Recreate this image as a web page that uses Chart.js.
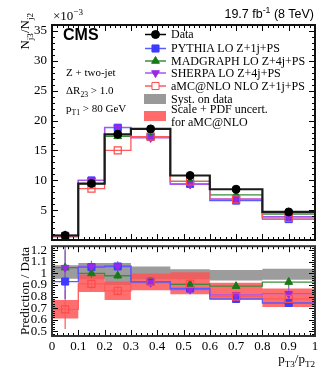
<!DOCTYPE html>
<html><head><meta charset="utf-8">
<script src="https://cdn.jsdelivr.net/npm/chart.js@4"></script>
<style>
body{margin:0;width:332px;height:375px;position:relative;background:#fff;overflow:hidden;font-family:"Liberation Serif",serif;}
canvas{position:absolute;left:0;top:0;}
.t{position:absolute;white-space:nowrap;color:#000;font-size:12px;line-height:14px;}
sub,sup{font-size:70%;line-height:0;}
.rot{position:absolute;transform-origin:0 0;transform:rotate(-90deg);white-space:nowrap;font-size:13px;line-height:16px;height:16px;}
</style></head><body>
<div style="position:absolute;left:0;top:0;width:332px;height:250px"><canvas id="c1" width="332" height="250"></canvas></div>
<div style="position:absolute;left:0;top:240px;width:332px;height:135px"><canvas id="c2" width="332" height="135"></canvas></div>
<div id="txt"></div>
<script>
// ---- data ----
const binEdges=[0,0.1,0.2,0.3,0.45,0.6,0.8,1.0];
const binCenters=[0.05,0.15,0.25,0.375,0.525,0.7,0.9];
const dataVals=[0.75,9.45,17.7,18.6,10.8,8.5,4.7];
const pythiaVals=[0.70,9.97,18.8,17.3,9.4,6.6,3.5];
const madgraphVals=[0.79,9.45,17.35,17.3,9.8,7.55,4.35];
const sherpaVals=[0.79,10.0,18.85,17.1,9.3,6.9,3.9];
const amcVals=[0.52,8.6,15.0,17.3,9.8,6.8,3.7];
const pythiaRatio=[0.93,1.055,1.06,0.93,0.87,0.78,0.745];
const madgraphRatio=[1.05,1.0,0.98,0.93,0.905,0.89,0.925];
const sherpaRatio=[1.05,1.06,1.065,0.92,0.86,0.815,0.825];
const amcRatio=[0.69,0.91,0.85,0.93,0.91,0.80,0.78];
const pythiaErr=[0.15,0.04,0.03,0.02,0.02,0.02,0.02];
const madgraphErr=[0.15,0.04,0.03,0.02,0.02,0.02,0.04];
const sherpaErr=[0.18,0.05,0.04,0.04,0.03,0.03,0.06];
const amcErr=[0.17,0.05,0.04,0.03,0.04,0.03,0.07];
const systLo=[0.955,0.95,0.90,0.95,0.95,0.94,0.945];
const systHi=[1.07,1.09,1.09,1.06,1.035,1.03,1.04];
const amcBandLo=[0.61,0.84,0.77,0.855,0.82,0.77,0.71];
const amcBandHi=[0.77,0.99,0.93,1.0,1.01,0.92,0.87];
const topYTicks=[5,10,15,20,25,30,35];
const ratioYTicks=[0.5,0.6,0.7,0.8,0.9,1.0,1.1,1.2];
const ratioYLabels=['0.5','0.6','0.7','0.8','0.9','1','1.1','1.2'];
const xTicks=[0,0.1,0.2,0.3,0.4,0.5,0.6,0.7,0.8,0.9,1.0];
const xTickLabels=['0','0.1','0.2','0.3','0.4','0.5','0.6','0.7','0.8','0.9','1'];
const legendLabels=['Data','PYTHIA LO Z+1j+PS','MADGRAPH LO Z+4j+PS','SHERPA LO Z+4j+PS','aMC@NLO NLO Z+1j+PS','Syst. on data','Scale + PDF uncert.','for aMC@NLO'];

// ---- styles ----
const C={data:'#000000',py:'#3c3cff',mg:'#177a17',sh:'#9a28e6',amc:'#ff4a4a',pyL:'#5a5aff',mgL:'#3d8c3d',shL:'#a955ee',amcL:'#ff5a5a'};
const SERIF='"Liberation Serif", serif';

function stepPts(vals){const p=binEdges.slice(0,-1).map((x,i)=>({x:x,y:vals[i]}));p.push({x:binEdges[binEdges.length-1],y:vals[vals.length-1]});return p;}
function ctrPts(vals){return binCenters.map((x,i)=>({x:x,y:vals[i]}));}
function errPts(vals,err){const p=[];binCenters.forEach((x,i)=>{p.push({x:x,y:vals[i]-err[i]});p.push({x:x,y:vals[i]+err[i]});p.push({x:x,y:null});});return p;}
function stepDS(vals,col,w,order){return {type:'line',data:stepPts(vals),stepped:true,borderColor:col,borderWidth:w,pointRadius:0,fill:false,order:order};}
function markDS(vals,col,style,r,order,opts){return Object.assign({type:'line',data:ctrPts(vals),showLine:false,pointStyle:style,pointRadius:r,pointBackgroundColor:col,pointBorderColor:col,pointBorderWidth:1,order:order},opts||{});}
function errDS(vals,err,col,order){return {type:'line',data:errPts(vals,err),borderColor:col,borderWidth:1.2,pointRadius:0,spanGaps:false,fill:false,order:order};}
function noPad(s){s.paddingTop=0;s.paddingBottom=0;s.paddingLeft=0;s.paddingRight=0;}

function framePlugin(cfg){return {id:'frame',afterDraw(chart){
  const ctx=chart.ctx,a=chart.chartArea,x=chart.scales.x,y=chart.scales.y;
  ctx.save();ctx.strokeStyle='#000';ctx.lineWidth=1;
  ctx.beginPath();
  for(let k=0;k<=50;k++){const v=k*0.02;const px=Math.round(x.getPixelForValue(v))+0.5;const L=(k%5===0)?cfg.xMaj:cfg.xMin;
    ctx.moveTo(px,a.bottom);ctx.lineTo(px,a.bottom-L);ctx.moveTo(px,a.top);ctx.lineTo(px,a.top+L);}
  for(let v=cfg.yFrom;v<=cfg.yTo+1e-9;v+=cfg.yMinor){const py=Math.round(y.getPixelForValue(v))+0.5;
    const isMaj=Math.abs(v/cfg.yMajor-Math.round(v/cfg.yMajor))<1e-6;const L=isMaj?cfg.yMaj:cfg.yMin;
    ctx.moveTo(a.left,py);ctx.lineTo(a.left+L,py);ctx.moveTo(a.right,py);ctx.lineTo(a.right-L,py);}
  ctx.stroke();
  ctx.lineWidth=2;ctx.strokeStyle=cfg.frameCol;ctx.strokeRect(a.left,a.top,a.width,a.height);
  ctx.restore();}};}

function shape(ctx,style,x,y,r,col,filled){
  ctx.beginPath();
  if(style==='circle'){ctx.arc(x,y,r,0,Math.PI*2);}
  else if(style==='rect'){const s=r*Math.SQRT1_2;ctx.rect(x-s,y-s,2*s,2*s);}
  else if(style==='tri'){ctx.moveTo(x,y-r);ctx.lineTo(x+r*0.866,y+r*0.5);ctx.lineTo(x-r*0.866,y+r*0.5);ctx.closePath();}
  else if(style==='trid'){ctx.moveTo(x,y+r);ctx.lineTo(x+r*0.866,y-r*0.5);ctx.lineTo(x-r*0.866,y-r*0.5);ctx.closePath();}
  if(filled){ctx.fillStyle=col;ctx.fill();}else{ctx.fillStyle='#fff';ctx.fill();}
  ctx.strokeStyle=col;ctx.lineWidth=1;ctx.stroke();
}
const legendRowsY=[34.5,48.5,61,73,86,99,109.5,122.5];
const legendPlugin={id:'legSym',afterDraw(chart){
  const ctx=chart.ctx;ctx.save();
  const x0=145,x1=166,xc=155.5;
  const rows=[[C.data,'circle',4,true],[C.pyL,'rect',5,true,C.py],[C.mgL,'tri',4.5,true,C.mg],[C.shL,'trid',4.5,true,C.sh],[C.amcL,'rect',5,false,C.amc]];
  rows.forEach((r,i)=>{const y=legendRowsY[i];ctx.strokeStyle=r[0];ctx.lineWidth=1.5;ctx.beginPath();ctx.moveTo(x0,y);ctx.lineTo(x1,y);ctx.stroke();
    shape(ctx,r[1],xc,y,r[2],r[4]||r[0],r[3]);});
  ctx.fillStyle='#999999';ctx.fillRect(144,94,22,10);
  ctx.fillStyle='#ff6b6b';ctx.fillRect(144,111,22,10);
  ctx.restore();}};

const common={responsive:false,animation:false,events:[],plugins:{legend:{display:false},tooltip:{enabled:false}}};

// ---- top panel ----
new Chart(document.getElementById('c1'),{
  type:'line',
  data:{datasets:[
    markDS(dataVals,C.data,'circle',4,0),
    markDS(amcVals,C.amc,'rect',5,1,{pointBackgroundColor:'rgba(255,255,255,0)',pointBorderWidth:1.2}),
    markDS(sherpaVals,C.sh,'triangle',4.5,2,{pointRotation:180}),
    markDS(madgraphVals,C.mg,'triangle',4.5,3),
    markDS(pythiaVals,C.py,'rect',5,4),
    stepDS(dataVals,'#1a1a1a',2.2,5),
    stepDS(amcVals,C.amcL,1.3,6),
    stepDS(sherpaVals,C.shL,1.3,7),
    stepDS(madgraphVals,C.mgL,1.3,8),
    stepDS(pythiaVals,C.pyL,1.3,9)
  ]},
  options:Object.assign({},common,{
    layout:{padding:{top:25,right:17,bottom:10,left:0}},
    scales:{
      x:{type:'linear',min:0,max:1,grid:{display:false,drawTicks:false},border:{display:false},ticks:{display:false},afterFit(s){s.height=0;noPad(s);}},
      y:{type:'linear',min:0,max:36,grid:{display:false,drawTicks:false},border:{display:false},
        afterBuildTicks(s){s.ticks=topYTicks.map(v=>({value:v}));},
        ticks:{color:'#000',font:{family:SERIF,size:13},padding:5,callback:(v)=>String(v)},
        afterFit(s){s.width=52;noPad(s);}}
    }
  }),
  plugins:[framePlugin({xMaj:6,xMin:3,yFrom:0,yTo:36,yMinor:1,yMajor:5,yMaj:6,yMin:3,frameCol:'#111'}),legendPlugin]
});

// ---- ratio panel ----
new Chart(document.getElementById('c2'),{
  type:'line',
  data:{datasets:[
    {type:'line',data:stepPts(systLo),stepped:true,borderWidth:0,pointRadius:0,fill:false,order:30},
    {type:'line',data:stepPts(systHi),stepped:true,borderWidth:0,pointRadius:0,fill:'-1',backgroundColor:'#9c9c9c',order:29},
    {type:'line',data:stepPts(amcBandLo),stepped:true,borderWidth:0,pointRadius:0,fill:false,order:28},
    {type:'line',data:stepPts(amcBandHi),stepped:true,borderWidth:0,pointRadius:0,fill:'-1',backgroundColor:'rgba(255,85,85,0.85)',order:27},
    stepDS(amcRatio,C.amcL,1.3,20),
    stepDS(sherpaRatio,C.shL,1.3,19),
    stepDS(madgraphRatio,C.mgL,1.3,18),
    stepDS(pythiaRatio,C.pyL,1.3,17),
    errDS(amcRatio,amcErr,C.amcL,12),
    errDS(pythiaRatio,pythiaErr,C.pyL,11),
    errDS(madgraphRatio,madgraphErr,C.mgL,10),
    errDS(sherpaRatio,sherpaErr,C.shL,9),
    markDS(pythiaRatio,C.py,'rect',5,5),
    markDS(madgraphRatio,C.mg,'triangle',4.5,4),
    markDS(sherpaRatio,C.sh,'triangle',4.5,3,{pointRotation:180}),
    markDS(amcRatio,C.amc,'rect',5,2,{pointBackgroundColor:'rgba(255,255,255,0)',pointBorderWidth:1.2})
  ]},
  options:Object.assign({},common,{
    layout:{padding:{top:6,right:17,bottom:0,left:0}},
    scales:{
      x:{type:'linear',min:0,max:1,grid:{display:false,drawTicks:false},border:{display:false},
        afterBuildTicks(s){s.ticks=xTicks.map(v=>({value:v}));},
        ticks:{color:'#000',font:{family:SERIF,size:13},padding:3,maxRotation:0,autoSkip:false,callback:(v,i)=>xTickLabels[i]},
        afterFit(s){s.height=39;noPad(s);}},
      y:{type:'linear',min:0.46,max:1.235,grid:{display:false,drawTicks:false},border:{display:false},
        afterBuildTicks(s){s.ticks=ratioYTicks.map(v=>({value:v}));},
        ticks:{color:'#000',font:{family:SERIF,size:13},padding:5,autoSkip:false,callback:(v,i)=>ratioYLabels[i]},
        afterFit(s){s.width=52;noPad(s);}}
    }
  }),
  plugins:[framePlugin({xMaj:6,xMin:3,yFrom:0.48,yTo:1.22,yMinor:0.02,yMajor:0.1,yMaj:6,yMin:3,frameCol:'#333'})]
});

// ---- text ----
const T=document.getElementById('txt');
function add(html,style,cls){const d=document.createElement('div');d.className=cls||'t';d.innerHTML=html;d.setAttribute('style',style);T.appendChild(d);return d;}
add('&times;10<sup>&minus;3</sup>','left:53px;top:9px;font-size:13px;');
add('19.7 fb<sup>-1</sup> (8 TeV)','right:18px;top:7px;font-family:"Liberation Sans",sans-serif;font-size:12.5px;');
add('CMS','left:63px;top:26px;font-family:"Liberation Sans",sans-serif;font-weight:bold;font-size:16px;line-height:18px;');
add('Z + two-jet','left:66px;top:65px;font-size:11px;');
add('&Delta;R<sub>23</sub> &gt; 1.0','left:66px;top:83px;font-size:11px;');
add('p<sub>T1</sub> &gt; 80 GeV','left:66px;top:101px;font-size:11px;');
legendLabels.forEach((s,i)=>add(s.replace('&','&amp;'),'left:171px;top:'+(legendRowsY[i]-7.5)+'px;'));
add('N<sub>j3</sub>/N<sub>j2</sub>','left:17px;top:113px;width:100px;text-align:right;','rot');
add('Prediction / Data','left:17px;top:351px;width:120px;text-align:center;','rot');
add('p<sub>T3</sub>/p<sub>T2</sub>','right:17px;top:352px;font-size:13px;');
</script>
</body></html>
